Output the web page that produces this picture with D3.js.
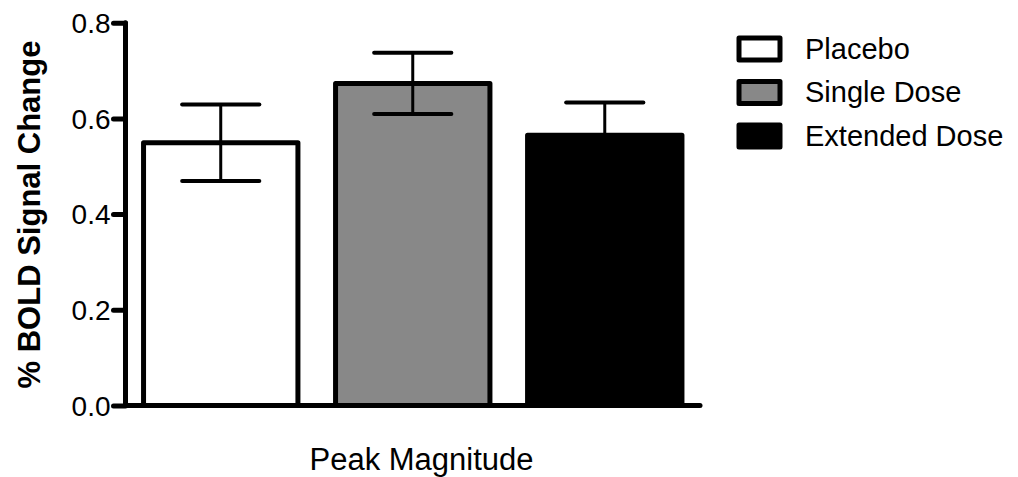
<!DOCTYPE html>
<html>
<head>
<meta charset="utf-8">
<script src="https://cdn.jsdelivr.net/npm/d3@7"></script>
<style>
  html, body { margin: 0; padding: 0; background: #fff; }
  svg { display: block; font-family: "Liberation Sans", Arial, sans-serif; }
</style>
</head>
<body>
<svg id="chart" width="1018" height="477"></svg>
<script>
// Peak BOLD response by treatment group
const groups = ["Placebo", "Single Dose", "Extended Dose"];
const means = [0.549, 0.673, 0.565];
const sems = [0.080, 0.064, 0.068];
const fills = ["#ffffff", "#888888", "#000000"];
const yTicks = [0.0, 0.2, 0.4, 0.6, 0.8];
const xLabel = "Peak Magnitude";
const yLabel = "% BOLD Signal Change";

const svg = d3.select("#chart");

const y = d3.scaleLinear().domain([0, 0.8]).range([405.5, 22.7]);
const x = d3.scaleBand().domain(groups).range([125.5, 700])
  .paddingInner(0.196).paddingOuter(0.094);

// bars
svg.append("g").selectAll("rect").data(groups).join("rect")
  .attr("x", d => x(d))
  .attr("y", (d, i) => y(means[i]))
  .attr("width", x.bandwidth())
  .attr("height", (d, i) => y(0) - y(means[i]))
  .attr("fill", (d, i) => fills[i])
  .attr("stroke", "#000")
  .attr("stroke-width", 5)
  .attr("stroke-linejoin", "round");

// error bars (mean ± SEM)
const eb = svg.append("g").attr("stroke", "#000").attr("stroke-linecap", "round");
groups.forEach((g, i) => {
  const cx = x(g) + x.bandwidth() / 2;
  const hw = x.bandwidth() / 4;
  const hi = means[i] + sems[i], lo = means[i] - sems[i];
  eb.append("line").attr("x1", cx).attr("x2", cx)
    .attr("y1", y(hi)).attr("y2", y(lo)).attr("stroke-width", 3);
  [hi, lo].forEach(v => {
    eb.append("line").attr("x1", cx - hw).attr("x2", cx + hw)
      .attr("y1", y(v)).attr("y2", y(v)).attr("stroke-width", 4);
  });
});

// y axis
const yAxis = svg.append("g").attr("transform", "translate(125.5,0)")
  .call(d3.axisLeft(y).tickValues(yTicks).tickFormat(d3.format(".1f"))
    .tickSize(12).tickSizeOuter(0).tickPadding(3));
yAxis.select(".domain").remove();
yAxis.selectAll(".tick line").attr("stroke-width", 5).attr("stroke-linecap", "round");
yAxis.selectAll(".tick text").attr("font-size", 28).attr("fill", "#000")
  .attr("dy", "0.35em")
  .attr("font-family", "Liberation Sans, Arial, sans-serif");
svg.append("line").attr("x1", 125.5).attr("x2", 125.5)
  .attr("y1", y(0.8)).attr("y2", y(0))
  .attr("stroke", "#000").attr("stroke-width", 5).attr("stroke-linecap", "round");

// x axis baseline
svg.append("line").attr("x1", 125.5).attr("x2", 700)
  .attr("y1", y(0)).attr("y2", y(0))
  .attr("stroke", "#000").attr("stroke-width", 5).attr("stroke-linecap", "round");

// axis titles
svg.append("text").attr("x", 421.5).attr("y", 470)
  .attr("text-anchor", "middle").attr("font-size", 31).text(xLabel);
svg.append("text")
  .attr("transform", "translate(40,214.5) rotate(-90)")
  .attr("text-anchor", "middle").attr("font-size", 31).attr("font-weight", "bold")
  .text(yLabel);

// legend
const lg = svg.append("g").attr("transform", "translate(739,38)");
groups.forEach((g, i) => {
  const row = lg.append("g").attr("transform", `translate(0,${i * 43.5})`);
  row.append("rect").attr("width", 41).attr("height", 22)
    .attr("fill", fills[i]).attr("stroke", "#000").attr("stroke-width", 5)
    .attr("stroke-linejoin", "round");
  row.append("text").attr("x", 66).attr("y", 20.5)
    .attr("font-size", 29).text(g);
});
</script>
</body>
</html>
